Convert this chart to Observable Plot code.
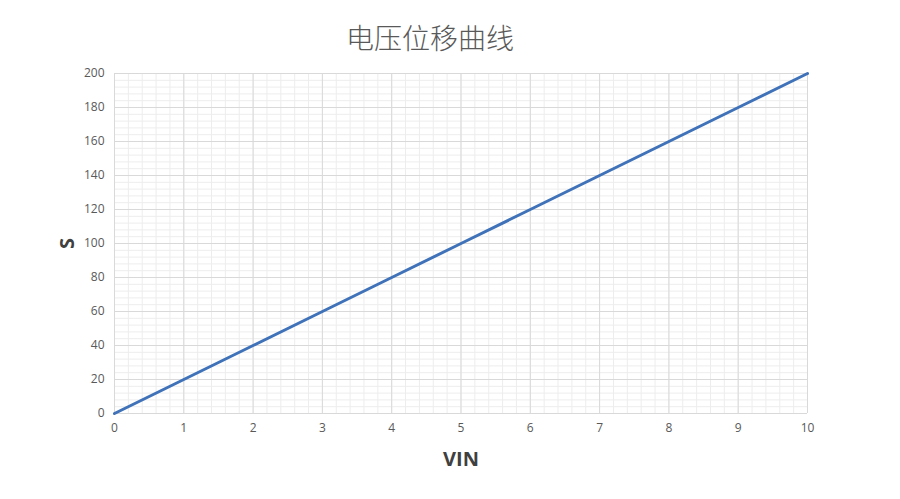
<!DOCTYPE html>
<html><head><meta charset="utf-8">
<script src="https://cdn.jsdelivr.net/npm/d3@7"></script>
<script src="https://cdn.jsdelivr.net/npm/@observablehq/plot@0.6"></script>
<style>
body{margin:0;background:#fff;}
#title{height:60px;width:860px;text-align:center;font-family:"Noto Sans CJK SC",sans-serif;font-weight:300;font-size:28px;color:#595959;line-height:74px;letter-spacing:0px;}
</style>
</head><body>
<div id="title">电压位移曲线</div>
<div id="chart"></div>
<script>
const vin = [0,1,2,3,4,5,6,7,8,9,10];
const s = [0,20,40,60,80,100,120,140,160,180,200];
const xTicks = [0,1,2,3,4,5,6,7,8,9,10];
const yTicks = [0,20,40,60,80,100,120,140,160,180,200];
const xMinor = d3.range(0,10.001,0.2);
const yMinor = d3.range(0,200.001,4);
const data = vin.map((v,i)=>({vin:v,s:s[i]}));

const chart = Plot.plot({
  width:900, height:439,
  marginLeft:114, marginRight:93, marginTop:13, marginBottom:86,
  style:{fontFamily:"'Open Sans',sans-serif",fontSize:"12px",color:"#595959",background:"#fff"},
  x:{domain:[0,10], ticks:xTicks, label:null},
  y:{domain:[0,200], ticks:yTicks, label:null},
  marks:[
    Plot.ruleX(xMinor,{stroke:"#ededed",strokeWidth:1}),
    Plot.ruleY(yMinor,{stroke:"#ededed",strokeWidth:1}),
    Plot.ruleX(xTicks,{stroke:"#d9d9d9",strokeWidth:1}),
    Plot.ruleY(yTicks,{stroke:"#d9d9d9",strokeWidth:1}),
    Plot.axisX({ticks:xTicks, tickSize:0, tickPadding:10, label:"VIN", labelAnchor:"center", labelOffset:52, labelArrow:"none", fill:"#595959"}),
    Plot.axisY({ticks:yTicks, tickSize:0, tickPadding:10, label:"S", labelAnchor:"center", labelOffset:55, labelArrow:"none", fill:"#595959"}),
    Plot.line(data,{x:"vin",y:"s",stroke:"#3f72b8",strokeWidth:3})
  ]
});
d3.select(chart).selectAll("[aria-label='x-axis label'] text, [aria-label='y-axis label'] text")
  .style("font-size","20px").style("font-weight","bold").style("fill","#404040");
document.getElementById("chart").appendChild(chart);
</script>
</body></html>
